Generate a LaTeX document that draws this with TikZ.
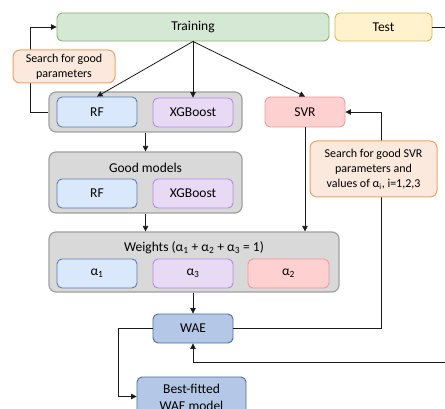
\documentclass[tikz,border=0pt]{standalone}
\usepackage{fontspec}
\setmainfont{Carlito}
\usetikzlibrary{arrows.meta}

\definecolor{trainfill}{HTML}{D5E8D4}
\definecolor{traindraw}{HTML}{82B366}
\definecolor{testfill}{HTML}{FFF2CC}
\definecolor{testdraw}{HTML}{D6B656}
\definecolor{notefill}{HTML}{FCE9DD}
\definecolor{notedraw}{HTML}{F2A064}
\definecolor{groupfill}{HTML}{D9D9D9}
\definecolor{groupdraw}{HTML}{A0A0A0}
\definecolor{bluefill}{HTML}{DAE8FC}
\definecolor{bluedraw}{HTML}{5B7DB1}
\definecolor{purplefill}{HTML}{E8DAF5}
\definecolor{purpledraw}{HTML}{B38AE3}
\definecolor{redfill}{HTML}{FFD0D0}
\definecolor{reddraw}{HTML}{F09A9A}
\definecolor{waefill}{HTML}{B4C7E7}
\definecolor{waedraw}{HTML}{4A6DA0}
\definecolor{linecol}{HTML}{1A1A1A}

\tikzset{
  box/.style={rectangle, rounded corners=5pt, line width=0.9pt, inner sep=0pt,
    align=center, font=\fontsize{13.5}{15}\selectfont},
  smallbox/.style={box, minimum width=80pt, minimum height=29pt},
  group/.style={box, fill=groupfill, draw=groupdraw, line width=1.2pt, rounded corners=7pt},
  note/.style={box, fill=notefill, draw=notedraw, line width=1pt, rounded corners=7pt,
    font=\fontsize{12}{15}\selectfont},
  rfbox/.style={smallbox, fill=bluefill, draw=bluedraw},
  xgbbox/.style={smallbox, fill=purplefill, draw=purpledraw},
  svrbox/.style={smallbox, fill=redfill, draw=reddraw},
  waebox/.style={box, fill=waefill, draw=waedraw},
  link/.style={draw=linecol, line width=0.8pt},
  arr/.style={link, -{Triangle[length=5.5pt,width=5.5pt]}},
  title/.style={inner sep=0pt, font=\fontsize{13.5}{15}\selectfont}
}

\begin{document}
\begin{tikzpicture}[x=1pt, y=-1pt]
  \useasboundingbox (0,0) rectangle (445,409);
  \clip (0,0) rectangle (445,409);

  % top row
  \node[box, fill=trainfill, draw=traindraw, minimum width=272pt, minimum height=28pt] (train) at (193,27) {Training};
  \node[box, fill=testfill, draw=testdraw, minimum width=97pt, minimum height=28pt] (test) at (383.5,27) {Test};

  % first model group
  \node[group, minimum width=193pt, minimum height=40pt] (g1) at (145.5,112) {};
  \node[rfbox, minimum height=30pt] (rf1) at (97,112) {RF};
  \node[xgbbox] (xgb1) at (193,112.5) {XGBoost};
  \node[svrbox, minimum height=30pt] (svr) at (305,112) {SVR};

  % good models group
  \node[group, minimum width=193pt, minimum height=61pt] (g2) at (145.5,182.5) {};
  \node[title] (g2t) at (145.5,168) {Good models};
  \node[rfbox] (rf2) at (97,193.5) {RF};
  \node[xgbbox] (xgb2) at (193,193.5) {XGBoost};

  % weights group
  \node[group, minimum width=290pt, minimum height=60pt] (g3) at (194,262) {};
  \node[title] (g3t) at (194,248) {Weights (α\textsubscript{1} + α\textsubscript{2} + α\textsubscript{3} = 1)};
  \node[rfbox] (a1) at (97,273.5) {α\textsubscript{1}};
  \node[xgbbox] (a3) at (193,273.5) {α\textsubscript{3}};
  \node[svrbox, minimum width=81pt] (a2) at (288.5,273.5) {α\textsubscript{2}};

  % ensemble and result
  \node[waebox, minimum width=80pt, minimum height=29pt] (wae) at (193,328.5) {WAE};
  \node[waebox, minimum width=109pt, minimum height=40pt, font=\fontsize{13.5}{17}\selectfont] (best) at (191.5,397) {Best-fitted\\WAE model};

  % free ends at the right border
  \coordinate (testout) at (445,27);
  \coordinate (backin) at (445,362);

  % connectors
  \draw[arr] (train.south) -- (rf1.north);
  \draw[arr] (train.south) -- (xgb1.north);
  \draw[arr] (train.south) -- (svr.north);
  \draw[arr] (g1.west) -- (30,112) -- (30,27) -- (train.west);
  \draw[arr] (g1.south -| g2.north) -- (g2.north);
  \draw[arr] (g2.south) -- (g2.south |- g3.north);
  \draw[arr] (svr.south) -- (svr.south |- g3.north);
  \draw[arr] (wae.north |- g3.south) -- (wae.north);
  \draw[arr] (wae.east) -- (381,328.5) -- (381,112) -- (svr.east);
  \draw[arr] (wae.west) -- (118,328.5) -- (118,396.5) -- (best.west |- 0,396.5);
  \draw[arr] (backin) -- (193,362) -- (wae.south);
  \draw[link] (test.east) -- (testout);

  % notes placed over the feedback lines
  \node[note, minimum width=102pt, minimum height=33pt] (note1) at (64,66.5) {Search for good\\parameters};
  \node[note, minimum width=127pt, minimum height=56pt] (note2) at (373.5,169) {Search for good SVR\\parameters and\\values of α\textsubscript{i}, i=1,2,3};
\end{tikzpicture}
\end{document}
